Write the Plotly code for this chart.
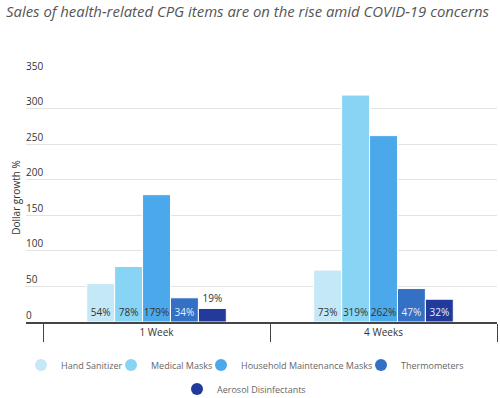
import plotly.graph_objects as go

periods = ["1 Week", "4 Weeks"]
series_names = ["Hand Sanitizer", "Medical Masks", "Household Maintenance Masks",
                "Thermometers", "Aerosol Disinfectants"]
hand_sanitizer = [54, 73]
medical_masks = [78, 319]
household_masks = [179, 262]
thermometers = [34, 47]
aerosol = [19, 32]
y_ticks = [0, 50, 100, 150, 200, 250, 300, 350]

values = [hand_sanitizer, medical_masks, household_masks, thermometers, aerosol]
colors = ["#c5e8f7", "#87d4f4", "#4ba8ea", "#3470c4", "#223a9a"]
inside_text_colors = ["#333333", "#333333", "#333333", "#e6eefa", "#e6eefa"]

FONT = "Open Sans"
W, H = 500, 398
fig = go.Figure()

for name, vals, col, tcol in zip(series_names, values, colors, inside_text_colors):
    fig.add_trace(go.Bar(
        x=periods, y=vals, name=name,
        marker=dict(color=col, line=dict(color="white", width=1)),
        text=[f"{v}%" for v in vals],
        textposition=["outside" if v < 25 else "inside" for v in vals],
        insidetextanchor="start",
        constraintext="none",
        cliponaxis=False,
        textangle=0,
        insidetextfont=dict(color=tcol, size=10, family=FONT),
        outsidetextfont=dict(color="#333333", size=10, family=FONT),
        showlegend=False,
        hoverinfo="skip",
    ))

# legend entries with circle symbols: first four in one row, last one in a second row
legend_keys = ["legend", "legend", "legend", "legend", "legend2"]
legend_widths = [45, 45, 115, 70, 95]
for name, col, key, lw in zip(series_names, colors, legend_keys, legend_widths):
    fig.add_trace(go.Scatter(
        x=[None], y=[None], mode="markers", name=name,
        marker=dict(color=col, size=12, symbol="circle"),
        legend=key, legendwidth=lw, showlegend=True, hoverinfo="skip",
    ))

legend_common = dict(
    xref="container", yref="container", xanchor="left", yanchor="middle",
    orientation="h", bgcolor="rgba(0,0,0,0)",
    font=dict(family=FONT, size=9, color="#666666"),
    itemclick=False, itemdoubleclick=False,
)

fig.update_layout(
    width=W, height=H,
    margin=dict(l=26, r=3, t=73, b=76),
    paper_bgcolor="white", plot_bgcolor="white",
    font=dict(family=FONT, size=10, color="#333333"),
    title=dict(text="<i>Sales of health-related CPG items are on the rise amid COVID-19 concerns</i>",
               x=6 / W, xanchor="left", y=1 - 12 / H, yanchor="middle", yref="container",
               font=dict(family=FONT, size=14.9, color="#555555")),
    barmode="group", bargap=0.385, bargroupgap=0.0,
    xaxis=dict(
        type="category", range=[-0.575, 1.5],
        tickson="boundaries", ticks="outside", ticklen=18, tickcolor="#444444",
        showline=True, linecolor="#444444", linewidth=1.5,
        showgrid=False, tickfont=dict(size=10, color="#333333"),
        fixedrange=True,
    ),
    yaxis=dict(
        range=[0, 350], tickvals=y_ticks,
        ticklabelposition="inside top", ticklabeloverflow="allow",
        ticklabelstandoff=-3,
        showgrid=True, gridcolor="#e3e3e3", gridwidth=1,
        zeroline=False, showline=False, ticks="",
        tickfont=dict(size=10, color="#333333"),
        title=dict(text="Dollar growth %", standoff=3, font=dict(size=10, color="#333333")),
        automargin=False, fixedrange=True,
    ),
    legend=dict(x=21 / W, y=1 - 365 / H, **legend_common),
    legend2=dict(x=177 / W, y=1 - 389 / H, **legend_common),
)

fig.write_html("out.html", config={"displayModeBar": False},
               post_script="document.body.style.margin='0';")
